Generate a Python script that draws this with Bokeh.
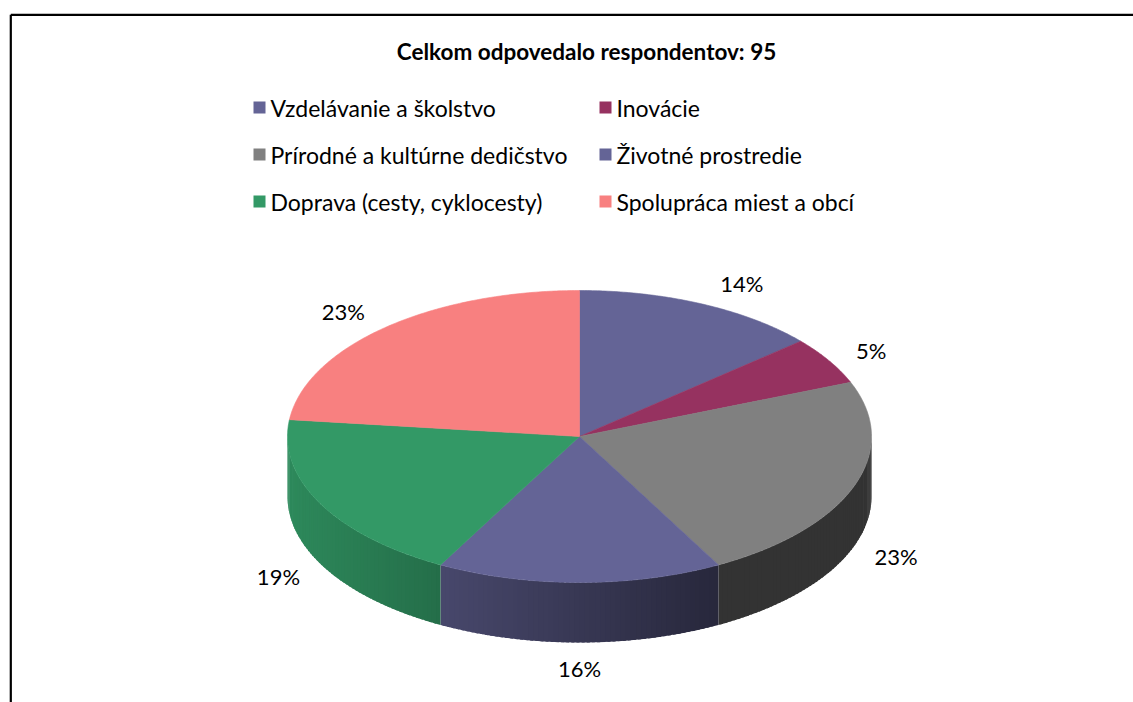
import numpy as np
from bokeh.plotting import figure
from bokeh.models import Range1d
from bokeh.embed import file_html
from bokeh.resources import INLINE
from bokeh.core.properties import value

# ---------------- data ----------------
title = "Celkom odpovedalo respondentov: 95"
categories = [
    "Vzdelávanie a školstvo",
    "Inovácie",
    "Prírodné a kultúrne dedičstvo",
    "Životné prostredie",
    "Doprava (cesty, cyklocesty)",
    "Spolupráca miest a obcí",
]
counts = [13, 5, 22, 15, 18, 22]
colors = ["#646496", "#963260", "#808080", "#646496", "#339966", "#F88080"]

# ---------------- geometry (page pixel coordinates) ----------------
W, H = 1133, 702
CX, CY = 579.0, 436.0
RX, RY = 292.0, 146.0
DEPTH = 60.0
FONT = "Lato"

p = figure(width=W, height=H, output_backend="svg", toolbar_location=None,
           x_range=Range1d(0, W), y_range=Range1d(H, 0),
           min_border=0, outline_line_color=None, background_fill_color="white",
           border_fill_color="white")
p.axis.visible = False
p.grid.visible = False

# frame lines
p.line(x=[10.3, W], y=[14.3, 14.3], line_color="black", line_width=2.2)
p.line(x=[10.3, 10.3], y=[14.3, H], line_color="black", line_width=2.2)


def ex(t):
    return CX + RX * np.sin(np.radians(t))


def ey(t):
    return CY - RY * np.cos(np.radians(t))


def hex_to_rgb(h):
    h = h.lstrip("#")
    return tuple(int(h[i:i + 2], 16) for i in (0, 2, 4))


def shade(h, f):
    r, g, b = hex_to_rgb(h)
    return "#%02x%02x%02x" % (int(r * f), int(g * f), int(b * f))


total = float(sum(counts))
angles = np.concatenate([[0.0], np.cumsum(counts) / total * 360.0])

# side walls (front half only: 90..270 deg), shaded in thin overlapping strips
wxs, wys, wcols = [], [], []
for i in range(len(counts)):
    a, b = angles[i], angles[i + 1]
    lo, hi = max(a, 90.0), min(b, 270.0)
    if lo >= hi:
        continue
    n = max(2, int((hi - lo) / 1.0))
    ts = np.linspace(lo, hi, n + 1)
    for t0, t1 in zip(ts[:-1], ts[1:]):
        t1e = min(hi, t1 + 0.6)
        xm = (ex(t0) + ex(t1)) / 2.0
        u = (xm - (CX - RX)) / (2 * RX)
        f = max(0.40, 0.90 - 0.5 * u / 0.738)
        c = shade(colors[i], f)
        wxs.append([ex(t0), ex(t1e), ex(t1e), ex(t0)])
        wys.append([ey(t0), ey(t1e), ey(t1e) + DEPTH, ey(t0) + DEPTH])
        wcols.append(c)
p.patches(xs=wxs, ys=wys, fill_color=wcols, line_color=None)

# top faces
txs, tys = [], []
for i in range(len(counts)):
    a, b = angles[i], angles[i + 1]
    ts = np.linspace(a, b, max(4, int(b - a) * 2))
    txs.append([CX] + list(ex(ts)))
    tys.append([CY] + list(ey(ts)))
p.patches(xs=txs, ys=tys, fill_color=colors, line_color=colors, line_width=0.6)

# percentage labels (outside end)
lx, ly, lt = [], [], []
for i in range(len(counts)):
    md = (angles[i] + angles[i + 1]) / 2.0
    m = np.radians(md)
    bx = ex(md)
    by = ey(md) + (DEPTH if np.cos(m) < 0 else 0.0)
    lx.append(bx + 42 * np.tanh(5 * np.sin(m)))
    ly.append(by - 24 * np.cos(m) + 2)
    lt.append("%d%%" % round(counts[i] / total * 100))
p.text(x=lx, y=ly, text=lt, text_font=value(FONT), text_font_size="22px",
       text_align="center", text_baseline="middle", text_color="black")

# title
p.text(x=[586], y=[51], text=[title], text_font=value(FONT), text_font_size="22.5px",
       text_font_style="bold", text_align="center", text_baseline="middle",
       text_color="black")

# legend (3 rows x 2 columns, row-major)
col_x = [259.0, 605.0]
row_y = [107.0, 154.0, 201.0]
sx, sy, tx, ty = [], [], [], []
for i in range(len(categories)):
    r, c = divmod(i, 2)
    sx.append(col_x[c])
    sy.append(row_y[r])
    tx.append(col_x[c] + 11)
    ty.append(row_y[r])
p.scatter(x=sx, y=sy, marker="square", size=12, fill_color=colors, line_color=None)
p.text(x=tx, y=ty, text=categories, text_font=value(FONT), text_font_size="23px",
       text_align="left", text_baseline="middle", text_color="black")

open("out.html", "w").write(file_html(p, INLINE))
